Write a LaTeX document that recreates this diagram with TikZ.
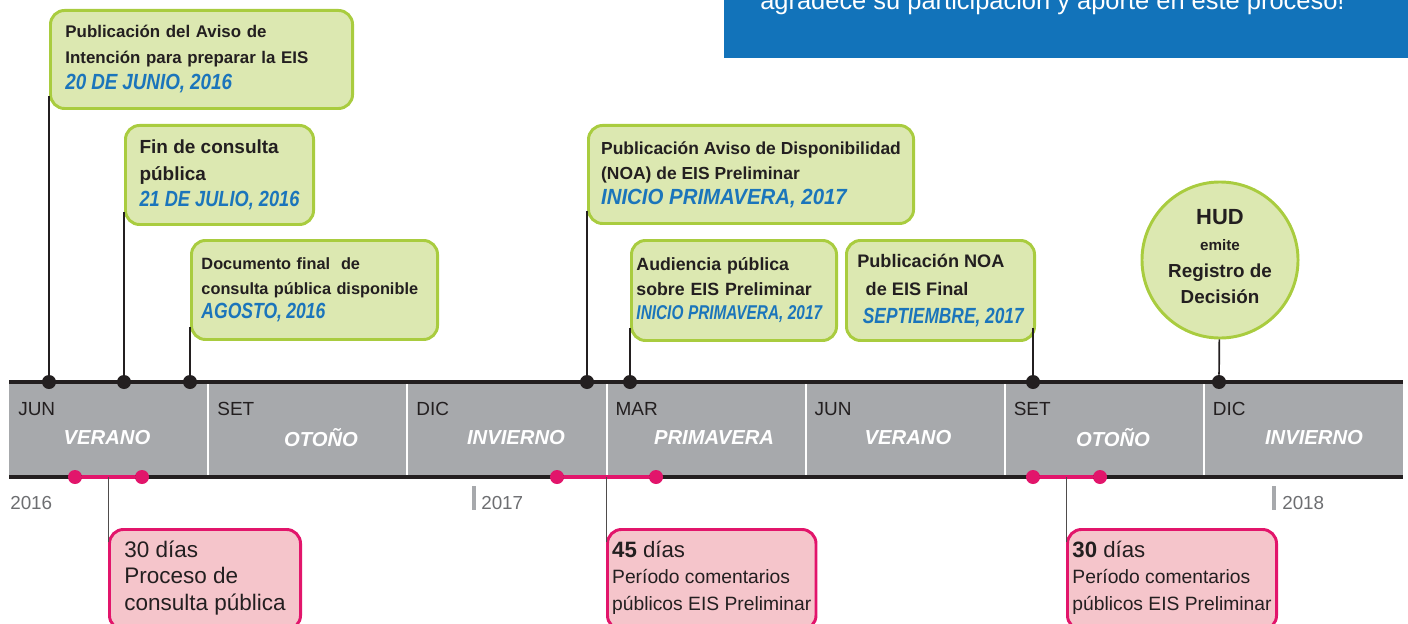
\documentclass[tikz,border=0pt]{standalone}
\usepackage{fontspec}
\setmainfont{Liberation Sans}
\usepackage{tikz}
\usetikzlibrary{calc}

\definecolor{gfill}{HTML}{DCE8B1}
\definecolor{gline}{HTML}{A9CC3F}
\definecolor{pfill}{HTML}{F5C5CB}
\definecolor{pline}{HTML}{E2156B}
\definecolor{fechablue}{HTML}{1B75BB}
\definecolor{band}{HTML}{A7A9AC}
\definecolor{ink}{HTML}{231F20}
\definecolor{banner}{HTML}{1273BA}
\definecolor{yeargray}{HTML}{6D6E71}

% fecha[horizontal scale]{size}{text}
\newcommand{\fecha}[3][1]{\scalebox{#1}[1]{\fontsize{#2}{#2}\selectfont\bfseries\itshape\color{fechablue}#3}}

\begin{document}
\begin{tikzpicture}[
  x=0.025cm, y=-0.025cm,
  gbox/.style={draw=gline, fill=gfill, line width=2.1pt, rounded corners=10pt,
    anchor=north west, align=left, text=ink},
  pbox/.style={draw=pline, fill=pfill, line width=2.1pt, rounded corners=10pt,
    anchor=north west, align=left, text=ink, minimum height=2.5cm, text depth=5.4pt},
  tdot/.style={circle, fill=ink, inner sep=0pt, minimum size=0.35cm},
  pdot/.style={circle, fill=pline, inner sep=0pt, minimum size=0.35cm},
  stem/.style={ink, line width=1.2pt},
  pstem/.style={ink!80, line width=0.9pt},
  monthlbl/.style={anchor=west, inner sep=0pt, text=ink, font=\fontsize{13.5}{16}\selectfont},
  seasonlbl/.style={inner sep=0pt, text=white, font=\fontsize{14.4}{16}\selectfont\bfseries\itshape},
  yearlbl/.style={anchor=west, inner sep=0pt, text=yeargray, font=\fontsize{13.4}{16}\selectfont}
]
\useasboundingbox (0,0) rectangle (1408,624);
\clip (0,0) rectangle (1408,624);

% banner
\fill[banner] (724,0) rectangle (1408,58.5);
\node[anchor=base west, inner sep=0pt, text=white, font=\fontsize{18.1}{20}\selectfont]
  (gracias) at (760,9.5) {agradece su participación y aporte en este proceso!};

% timeline band
\fill[band] (9,383) rectangle (1403,477);
\foreach \x in {208,407,607,806,1005,1204}
  \draw[white, line width=2pt] (\x,383) -- (\x,476);
\draw[ink, line width=2.2pt] (9,382) -- (1403,382);
\draw[ink, line width=2.2pt] (9,477) -- (1403,477);

\foreach \m/\s/\c [count=\i from 0] in {JUN/VERANO/107,SET/OTOÑO/321,DIC/INVIERNO/516,
    MAR/PRIMAVERA/714,JUN/VERANO/908,SET/OTOÑO/1113,DIC/INVIERNO/1314}{
  \node[monthlbl] (m\i) at (9+199.1*\i+9,409) {\m};
  \node[seasonlbl] (s\i) at (\c,438) {\s};
}

% years
\node[yearlbl] (y2016) at (10,503) {2016};
\fill[band] (472,486) rectangle (476,510);
\node[yearlbl] (y2017) at (481,503) {2017};
\fill[band] (1272,486) rectangle (1276,510);
\node[yearlbl] (y2018) at (1282,503) {2018};

% milestones
\foreach \x [count=\i] in {49,124,190,587,630,1033,1219}
  \node[tdot] (t\i) at (\x,382) {};

\node[gbox, inner xsep=0.375cm, text width=6.8cm, minimum height=2.45cm,
  font=\fontsize{12}{18.5}\selectfont\bfseries] (aviso) at (49,9)
  {Publicación del Aviso de\\Intención para preparar la EIS\\\fecha[0.86]{15.6}{20 DE JUNIO, 2016}};
\node[gbox, minimum width=4.7cm, minimum height=2.475cm,
  font=\fontsize{13.5}{18.8}\selectfont\bfseries] (fincons) at (124,124)
  {Fin de consulta\\pública\\\fecha[0.83]{15.6}{21 DE JULIO, 2016}};
\node[gbox, inner xsep=0.25cm, text width=5.65cm, minimum height=2.475cm,
  font=\fontsize{11.6}{17.4}\selectfont\bfseries] (docfinal) at (190,239)
  {Documento final~ de\\consulta pública disponible\\\fecha[0.8]{15.6}{AGOSTO, 2016}};
\node[gbox, minimum width=8.125cm, minimum height=2.45cm,
  font=\fontsize{12.4}{17.8}\selectfont\bfseries] (noaprelim) at (587,124)
  {Publicación Aviso de Disponibilidad\\(NOA) de EIS Preliminar\\\fecha[0.93]{15.6}{INICIO PRIMAVERA, 2017}};
\node[gbox, inner xsep=0.125cm, text width=4.875cm, minimum height=2.5cm,
  font=\fontsize{12.6}{17.4}\selectfont\bfseries] (audiencia) at (630,239)
  {Audiencia pública\\sobre EIS Preliminar\\\fecha[0.77]{14.2}{INICIO PRIMAVERA, 2017}};
\node[gbox, minimum width=4.7cm, minimum height=2.5cm,
  font=\fontsize{12.9}{19.9}\selectfont\bfseries] (noafinal) at (845,239)
  {Publicación NOA\\\hspace*{6pt}de EIS Final\\\hspace*{4pt}\fecha[0.79]{15.6}{SEPTIEMBRE, 2017}};

\node[circle, draw=gline, fill=gfill, line width=2.1pt, minimum size=3.9cm, inner sep=0pt]
  (hud) at (1220,260) {};
\node[align=center, text=ink, font=\fontsize{13.4}{18.7}\selectfont\bfseries]
  (hudtxt) at ([yshift=2.4pt]hud.center)
  {{\fontsize{15.6}{18.7}\selectfont HUD}\\{\fontsize{10.8}{18.7}\selectfont emite}\\Registro de\\Decisión};

\draw[stem] (t1) -- ([yshift=10pt]t1 |- aviso.south);
\draw[stem] (t2) -- ([yshift=10pt]t2 |- fincons.south);
\draw[stem] (t3) -- ([yshift=10pt]t3 |- docfinal.south);
\draw[stem] (t4) -- ([yshift=10pt]t4 |- noaprelim.south);
\draw[stem] (t5) -- ([yshift=10pt]t5 |- audiencia.south);
\draw[stem] (t6) -- ([yshift=10pt]t6 |- noafinal.south);
\draw[stem] (t7) -- (hud);

% comment periods
\node[pdot] (a1) at (75,477) {};
\node[pdot] (a2) at (142,477) {};
\node[pdot] (b1) at (557,477) {};
\node[pdot] (b2) at (656,477) {};
\node[pdot] (c1) at (1033,477) {};
\node[pdot] (c2) at (1100,477) {};
\draw[pline, line width=3pt] (a1) -- (a2);
\draw[pline, line width=3pt] (b1) -- (b2);
\draw[pline, line width=3pt] (c1) -- (c2);
\coordinate (am) at ($(a1)!0.5!(a2)$);
\coordinate (bm) at ($(b1)!0.5!(b2)$);
\coordinate (cm) at ($(c1)!0.5!(c2)$);

\node[pbox, minimum width=4.775cm, font=\fontsize{16}{18.8}\selectfont] (consulta) at (108,528)
  {30 días\\Proceso de\\consulta pública};
\node[pbox, minimum width=5.2cm, font=\fontsize{13.7}{18.8}\selectfont] (prelim) at (606,528)
  {{\fontsize{15.8}{18.8}\selectfont\textbf{45} días}\\Período comentarios\\públicos EIS Preliminar};
\node[pbox, minimum width=5.225cm, font=\fontsize{13.7}{18.8}\selectfont] (final) at (1066,528)
  {{\fontsize{15.8}{18.8}\selectfont\textbf{30} días}\\Período comentarios\\públicos EIS Preliminar};

\draw[pstem] (am) -- ([yshift=-10pt]am |- consulta.north);
\draw[pstem] (bm) -- ([yshift=-10pt]bm |- prelim.north);
\draw[pstem] (cm) -- ([yshift=-10pt]cm |- final.north);
\end{tikzpicture}
\end{document}
